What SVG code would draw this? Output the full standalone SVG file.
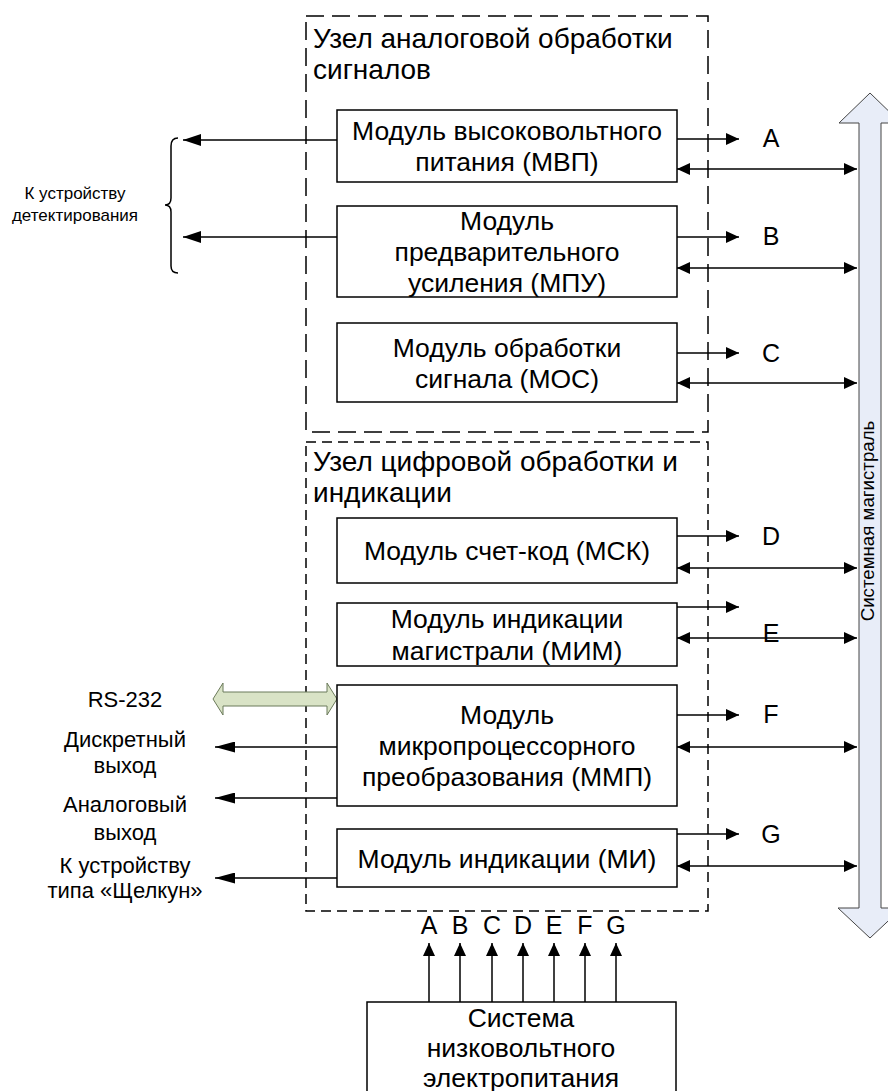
<svg xmlns="http://www.w3.org/2000/svg" width="888" height="1091" viewBox="0 0 888 1091">
<style>
  .box { fill: #ffffff; stroke: #000000; stroke-width: 1.5; }
  .grp1 { fill: none; stroke: #000000; stroke-width: 1.5; stroke-dasharray: 18 8; }
  .grp2 { fill: none; stroke: #000000; stroke-width: 1.5; stroke-dasharray: 10 6; }
  .t { font-family: "Liberation Sans", Arial, sans-serif; font-size: 26.5px; fill: #000; text-anchor: middle; }
  .title { font-family: "Liberation Sans", Arial, sans-serif; font-size: 28px; fill: #000; }
  .lbl { font-family: "Liberation Sans", Arial, sans-serif; font-size: 22px; fill: #000; text-anchor: middle; }
  .small { font-family: "Liberation Sans", Arial, sans-serif; font-size: 17px; fill: #000; text-anchor: middle; }
  .let { font-family: "Liberation Sans", Arial, sans-serif; font-size: 25px; fill: #000; text-anchor: middle; }
  .c { fill: none; stroke: #000; stroke-width: 1.5; }
  .sa { marker-end: url(#ah); }
  .da { marker-start: url(#ah); marker-end: url(#ah); }
  .la { marker-end: url(#ahL); }
  .ma { marker-end: url(#ahM); }
</style>
<defs>
  <marker id="ah" viewBox="0 0 13 12" refX="13" refY="6" markerWidth="13" markerHeight="12" markerUnits="userSpaceOnUse" orient="auto-start-reverse">
    <path d="M0,0 L13,6 L0,12 z" fill="#000"/>
  </marker>
  <marker id="ahL" viewBox="0 0 20 11" refX="20" refY="5.5" markerWidth="20" markerHeight="11" markerUnits="userSpaceOnUse" orient="auto">
    <path d="M0,0 L20,5.5 L0,11 z" fill="#000"/>
  </marker>
  <marker id="ahM" viewBox="0 0 18 12" refX="18" refY="6" markerWidth="18" markerHeight="12" markerUnits="userSpaceOnUse" orient="auto">
    <path d="M0,0 L18,6 L0,12 z" fill="#000"/>
  </marker>
</defs>

<g id="group-analog">
  <rect class="grp1" x="306" y="16" width="402" height="416"/>
  <text class="title" x="313" y="48">Узел аналоговой обработки</text>
  <text class="title" x="313" y="79">сигналов</text>
</g>

<g id="group-digital">
  <rect class="grp2" x="306" y="442" width="402" height="469"/>
  <text class="title" x="313" y="471">Узел цифровой обработки и</text>
  <text class="title" x="313" y="502">индикации</text>
</g>

<g id="bus">
  <polygon points="870,93 901,123 881,123 881,908 902,908 870,938 838,908 859,908 859,123 839,123" fill="#e8edf8" stroke="#444" stroke-width="1"/>
  <text transform="translate(874,521) rotate(-90)" font-family="Liberation Sans, Arial, sans-serif" font-size="18.7" text-anchor="middle">Системная магистраль</text>
</g>

<g id="connectors">
  <line class="c ma" x1="337" y1="140" x2="183" y2="140"/>
  <line class="c ma" x1="337" y1="237" x2="183" y2="237"/>
  <line class="c sa" x1="677" y1="139" x2="739" y2="139"/>
  <line class="c sa" x1="677" y1="237" x2="739" y2="237"/>
  <line class="c sa" x1="677" y1="353" x2="739" y2="353"/>
  <line class="c sa" x1="677" y1="536" x2="739" y2="536"/>
  <line class="c sa" x1="677" y1="607" x2="739" y2="607"/>
  <line class="c sa" x1="677" y1="715" x2="739" y2="715"/>
  <line class="c sa" x1="677" y1="834" x2="739" y2="834"/>
  <line class="c da" x1="677" y1="169" x2="857" y2="169"/>
  <line class="c da" x1="677" y1="268" x2="857" y2="268"/>
  <line class="c da" x1="677" y1="383" x2="857" y2="383"/>
  <line class="c da" x1="677" y1="568" x2="857" y2="568"/>
  <line class="c da" x1="677" y1="638" x2="857" y2="638"/>
  <line class="c da" x1="677" y1="747" x2="857" y2="747"/>
  <line class="c da" x1="677" y1="866" x2="857" y2="866"/>
  <line class="c la" x1="337" y1="747" x2="215" y2="747"/>
  <line class="c la" x1="337" y1="798" x2="215" y2="798" stroke-width="2"/>
  <line class="c la" x1="337" y1="878" x2="215" y2="878"/>
  <polygon points="213,699 223,683 223,692 327,692 327,683 337,699 327,715 327,706 223,706 223,715" fill="#d9e3c6" stroke="#6b7a5a" stroke-width="1"/>
  <line class="c sa" x1="429" y1="1002" x2="429" y2="943"/>
  <line class="c sa" x1="460" y1="1002" x2="460" y2="943"/>
  <line class="c sa" x1="492" y1="1002" x2="492" y2="943"/>
  <line class="c sa" x1="523" y1="1002" x2="523" y2="943"/>
  <line class="c sa" x1="554" y1="1002" x2="554" y2="943"/>
  <line class="c sa" x1="585" y1="1002" x2="585" y2="943"/>
  <line class="c sa" x1="616" y1="1002" x2="616" y2="943"/>
  <path class="c" stroke-width="1" d="M178,138 Q171,138 171,146 L171,198 Q171,205 165,205 Q171,205 171,212 L171,266 Q171,273 178,273"/>
</g>

<g id="node-mvp">
  <rect class="box" x="337" y="110" width="340" height="72"/>
  <text class="t" x="507" y="140">Модуль высоковольтного</text>
  <text class="t" x="507" y="171">питания (МВП)</text>
</g>
<g id="node-mpu">
  <rect class="box" x="337" y="206" width="340" height="91"/>
  <text class="t" x="507" y="230">Модуль</text>
  <text class="t" x="507" y="261">предварительного</text>
  <text class="t" x="507" y="292">усиления (МПУ)</text>
</g>
<g id="node-mos">
  <rect class="box" x="337" y="323" width="340" height="79"/>
  <text class="t" x="507" y="357">Модуль обработки</text>
  <text class="t" x="507" y="388">сигнала (МОС)</text>
</g>
<g id="node-msk">
  <rect class="box" x="337" y="518" width="340" height="65"/>
  <text class="t" x="507" y="560">Модуль счет-код (МСК)</text>
</g>
<g id="node-mim">
  <rect class="box" x="337" y="603" width="340" height="63"/>
  <text class="t" x="507" y="628">Модуль индикации</text>
  <text class="t" x="507" y="660">магистрали (МИМ)</text>
</g>
<g id="node-mmp">
  <rect class="box" x="337" y="685" width="340" height="121"/>
  <text class="t" x="507" y="724">Модуль</text>
  <text class="t" x="507" y="755">микропроцессорного</text>
  <text class="t" x="507" y="786">преобразования (ММП)</text>
</g>
<g id="node-mi">
  <rect class="box" x="337" y="829" width="340" height="58"/>
  <text class="t" x="507" y="868">Модуль индикации (МИ)</text>
</g>
<g id="node-power">
  <rect class="box" x="367" y="1002" width="309" height="100"/>
  <text class="t" x="521" y="1027">Система</text>
  <text class="t" x="521" y="1057">низковольтного</text>
  <text class="t" x="521" y="1087">электропитания</text>
</g>

<g id="labels-right">
  <text class="let" x="771" y="147">A</text>
  <text class="let" x="771" y="245">B</text>
  <text class="let" x="771" y="362">C</text>
  <text class="let" x="771" y="545">D</text>
  <text class="let" x="771" y="642">E</text>
  <text class="let" x="771" y="723">F</text>
  <text class="let" x="771" y="843">G</text>
</g>
<g id="labels-bottom">
  <text class="let" x="429" y="934">A</text>
  <text class="let" x="460" y="934">B</text>
  <text class="let" x="492" y="934">C</text>
  <text class="let" x="523" y="934">D</text>
  <text class="let" x="554" y="934">E</text>
  <text class="let" x="585" y="934">F</text>
  <text class="let" x="616" y="934">G</text>
</g>
<g id="labels-left">
  <text class="small" x="75" y="199">К устройству</text>
  <text class="small" x="75" y="221">детектирования</text>
  <text class="lbl" x="125" y="707">RS-232</text>
  <text class="lbl" x="125" y="747">Дискретный</text>
  <text class="lbl" x="125" y="773">выход</text>
  <text class="lbl" x="125" y="812">Аналоговый</text>
  <text class="lbl" x="125" y="840">выход</text>
  <text class="lbl" x="125" y="873">К устройству</text>
  <text class="lbl" x="125" y="898">типа «Щелкун»</text>
</g>
</svg>
